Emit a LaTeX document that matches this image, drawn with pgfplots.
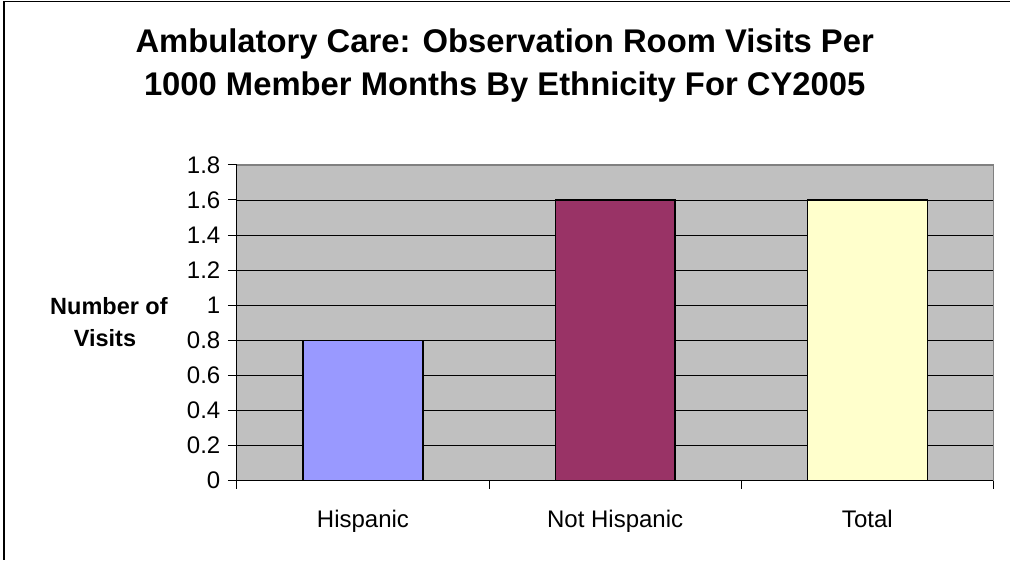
\documentclass[border=0pt]{standalone}
\usepackage{pgfplots}
\pgfplotsset{compat=1.18}
\usepackage{fontspec}
\setmainfont{Liberation Sans}
\definecolor{bgc}{HTML}{C0C0C0}
\definecolor{c1}{HTML}{9999FF}
\definecolor{c2}{HTML}{993366}
\definecolor{c3}{HTML}{FFFFCC}
\begin{document}
\begin{tikzpicture}[x=1pt,y=1pt]
\path (0,0) rectangle (1011,560);
\draw[line width=1.2pt] (4,0) -- (4,558.5) -- (1011,558.5);
\node[font=\fontsize{32.8}{40}\selectfont\bfseries, anchor=base, inner sep=0pt] at (505,507) {Ambulatory Care: Observation Room Visits Per};
\node[font=\fontsize{32.8}{40}\selectfont\bfseries, anchor=base, inner sep=0pt] at (505,464) {1000 Member Months By Ethnicity For CY2005};
\node[font=\fontsize{23.5}{28}\selectfont\bfseries, anchor=base, inner sep=0pt] at (109,245) {Number of};
\node[font=\fontsize{23.5}{28}\selectfont\bfseries, anchor=base, inner sep=0pt] at (105,213) {Visits};
\begin{axis}[
  at={(237pt,79pt)}, anchor=south west,
  scale only axis, width=757pt, height=316pt,
  xmin=-0.5, xmax=2.5, ymin=0, ymax=1.8,
  axis background/.style={fill=bgc},
  axis x line*=bottom, axis y line*=left,
  axis line style={black, line width=1pt, -},
  ybar, bar width=120pt, bar shift=0pt,
  xtick={0,1,2}, xticklabels={Hispanic,Not Hispanic,Total},
  minor xtick={-0.5,0.5,1.5,2.5},
  ytick={0,0.2,0.4,0.6,0.8,1,1.2,1.4,1.6,1.8},
  yticklabels={0,0.2,0.4,0.6,0.8,1,1.2,1.4,1.6,1.8},
  tick align=outside,
  major tick length=9pt, minor tick length=8pt,
  x tick style={draw=none},
  xminorticks=true,
  minor x tick style={draw=black, line width=1pt},
  y tick style={black, line width=1pt},
  ymajorgrids, grid style={black, line width=0.9pt},
  tick label style={font=\fontsize{24}{28}\selectfont},
  xticklabel style={anchor=base, yshift=-38pt},
  yticklabel style={anchor=east, xshift=-4pt},
  clip=false,
]
\addplot[fill=c1, draw=black, line width=1.3pt] coordinates {(0,0.8)};
\addplot[fill=c2, draw=black, line width=1.3pt] coordinates {(1,1.6)};
\addplot[fill=c3, draw=black, line width=1.3pt] coordinates {(2,1.6)};
\draw[gray, line width=1.4pt] (axis cs:-0.5,1.8) -- (axis cs:2.5,1.8) -- (axis cs:2.5,0);
\end{axis}
\end{tikzpicture}
\end{document}
